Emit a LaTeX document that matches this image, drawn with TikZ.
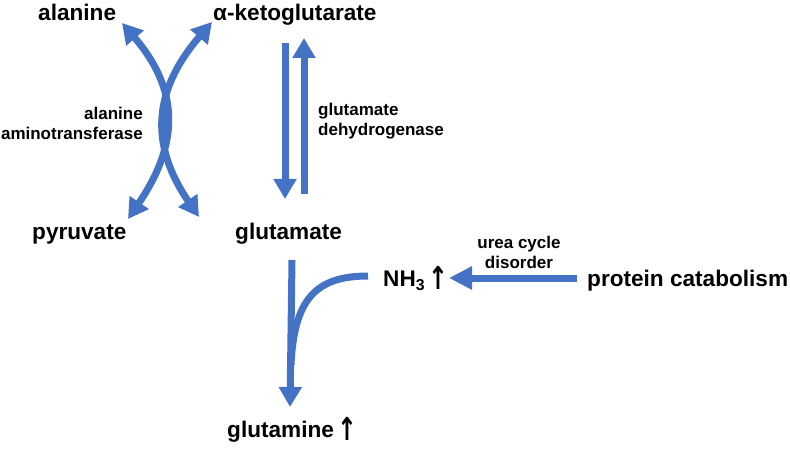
\documentclass[tikz,border=0pt]{standalone}
\usepackage{fontspec}
\setmainfont{Liberation Sans}
\newfontfamily\arrowfont{DejaVu Sans}
\newcommand{\uparr}{\raisebox{-3pt}{\scalebox{1.05}[1.4]{\arrowfont\bfseries ↑}}}
\usetikzlibrary{arrows.meta}
\definecolor{arrblue}{HTML}{4472C4}
\begin{document}
\begin{tikzpicture}[x=1pt,y=-1pt,
  big/.style={font=\fontsize{22.6}{27}\selectfont\bfseries, inner sep=0pt},
  small/.style={font=\fontsize{17}{20}\selectfont\bfseries, inner sep=0pt},
  link/.style={draw=arrblue, line width=7pt},
  flow/.style={link, -{Triangle[length=20pt,width=22pt]}},
  both/.style={link, {Triangle[length=20pt,width=22pt]}-{Triangle[length=20pt,width=22pt]}}
]
\useasboundingbox (0,0) rectangle (790,449);

% metabolite labels
\node[big, anchor=base west] (ala)  at (38,21)   {alanine};
\node[big, anchor=base west] (akg)  at (213,21)  {α-ketoglutarate};
\node[big, anchor=base west] (pyr)  at (32,240)  {pyruvate};
\node[big, anchor=base west] (glu)  at (235,240) {glutamate};
\node[big, anchor=base west] (nh3)  at (383,287) {NH\textsubscript{3}\,\uparr};
\node[big, anchor=base west] (prot) at (587,287) {protein catabolism};
\node[big, anchor=base west] (gln)  at (227,437) {glutamine\,\uparr};

% enzyme labels
\node[small, align=right,  anchor=base east] (alt) at (143,140) {alanine\\aminotransferase};
\node[small, align=left,   anchor=base west] (gdh) at (318,136) {glutamate\\dehydrogenase};
\node[small, align=center, anchor=base]      (ucd) at (519,269) {urea cycle\\disorder};

% connector end points
\coordinate (alaTip)  at (122,23);
\coordinate (pyrTip)  at (128,219);
\coordinate (akgTip)  at (212,22);
\coordinate (gluTipA) at (199,217);
\coordinate (gdhDownS) at (285,43);
\coordinate (gdhDownE) at (285,199);
\coordinate (gdhUpS)  at (304,194);
\coordinate (gdhUpE)  at (304,38);
\coordinate (glnS)    at (292,260);
\coordinate (glnE)    at (290,407);
\coordinate (nhS)     at (368,276);
\coordinate (nhJoin)  at (291,365);
\coordinate (protS)   at (577,278);
\coordinate (nhTip)   at (449,278);

% transamination
\draw[both] (pyrTip) .. controls (175,150) and (184,95) .. (alaTip);
\draw[both] (gluTipA) .. controls (152,148) and (150,94) .. (akgTip);

% glutamate dehydrogenase
\draw[flow] (gdhDownS) -- (gdhDownE);
\draw[flow] (gdhUpS) -- (gdhUpE);

% glutamine synthesis
\draw[flow] (glnS) -- (glnE);
\draw[link] (nhS) .. controls (315,276) and (294,300) .. (nhJoin);

% protein catabolism -> NH3
\draw[link, -{Triangle[length=23pt,width=22pt]}] (protS) -- (nhTip);
\end{tikzpicture}
\end{document}
